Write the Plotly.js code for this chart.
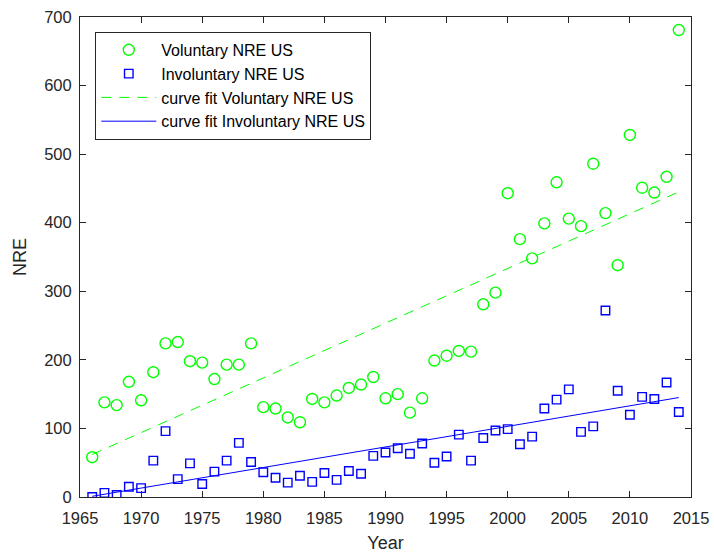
<!DOCTYPE html>
<html>
<head>
<meta charset="utf-8">
<script src="https://cdn.plot.ly/plotly-3.0.1.min.js"></script>
<style>html,body{margin:0;padding:0;background:#fff;}#chart{width:714px;height:553px;}</style>
</head>
<body>
<div id="chart"></div>
<script>
const years = [1966,1967,1968,1969,1970,1971,1972,1973,1974,1975,1976,1977,1978,1979,1980,1981,1982,1983,1984,1985,1986,1987,1988,1989,1990,1991,1992,1993,1994,1995,1996,1997,1998,1999,2000,2001,2002,2003,2004,2005,2006,2007,2008,2009,2010,2011,2012,2013,2014];
const voluntary = [58,138,134,168,141,182,224,226,198,196,172,193,193,224,131,129,116,109,143,138,148,159,164,175,144,150,123,144,199,206,213,212,281,298,443,376,348,399,459,406,395,486,414,338,528,451,444,467,681];
const involuntary = [0,6,3,15,13,53,96,26,49,19,37,53,79,51,36,28,21,31,22,35,25,38,34,60,65,71,63,78,50,59,91,53,86,97,99,77,88,129,142,157,95,103,272,155,120,146,143,167,124];
const fitYears = [1966, 2014];
const voluntaryFit = [62, 445];
const involuntaryFit = [1, 145];
const xTicks = [1965,1970,1975,1980,1985,1990,1995,2000,2005,2010,2015];
const yTicks = [0,100,200,300,400,500,600,700];

const font = 'Liberation Sans, Arial, sans-serif';
const axisColor = '#262626';

const traces = [
  {x: years, y: voluntary, type: 'scatter', mode: 'markers', name: 'Voluntary NRE US',
   marker: {symbol: 'circle-open', size: 11, color: '#00ff00', line: {width: 1.4, color: '#00ff00'}}},
  {x: years, y: involuntary, type: 'scatter', mode: 'markers', name: 'Involuntary NRE US',
   marker: {symbol: 'square-open', size: 8.5, color: '#0000ff', line: {width: 1.4, color: '#0000ff'}}},
  {x: fitYears, y: voluntaryFit, type: 'scatter', mode: 'lines', name: 'curve fit Voluntary NRE US',
   line: {color: '#00ff00', width: 1, dash: '10px,8px'}},
  {x: fitYears, y: involuntaryFit, type: 'scatter', mode: 'lines', name: 'curve fit Involuntary NRE US',
   line: {color: '#0000ff', width: 1}}
];

const axisCommon = {
  showgrid: false, zeroline: false, showline: true, linecolor: axisColor, linewidth: 1,
  mirror: 'allticks', ticks: 'inside', ticklen: 6, tickwidth: 1, tickcolor: axisColor,
  tickfont: {family: font, size: 16.5, color: axisColor}, tickmode: 'array'
};

const layout = {
  width: 714, height: 553,
  margin: {l: 80, r: 23, t: 17, b: 56},
  paper_bgcolor: '#fff', plot_bgcolor: '#fff',
  font: {family: font, color: axisColor},
  showlegend: true,
  legend: {x: 0.025, y: 0.969, xanchor: 'left', yanchor: 'top', bgcolor: '#fff',
    bordercolor: axisColor, borderwidth: 1, font: {family: font, size: 16, color: '#000'},
    itemwidth: 55, tracegroupgap: 0},
  xaxis: Object.assign({}, axisCommon, {range: [1965, 2015], tickvals: xTicks, ticktext: xTicks.map(String),
    ticklabelstandoff: 6,
    title: {text: 'Year', font: {family: font, size: 18, color: axisColor}, standoff: 10}}),
  yaxis: Object.assign({}, axisCommon, {range: [0, 700], tickvals: yTicks, ticktext: yTicks.map(String),
    ticklabelstandoff: 4,
    title: {text: 'NRE', font: {family: font, size: 18, color: axisColor}, standoff: 12}})
};

Plotly.newPlot('chart', traces, layout, {displayModeBar: false, staticPlot: true});
</script>
</body>
</html>
